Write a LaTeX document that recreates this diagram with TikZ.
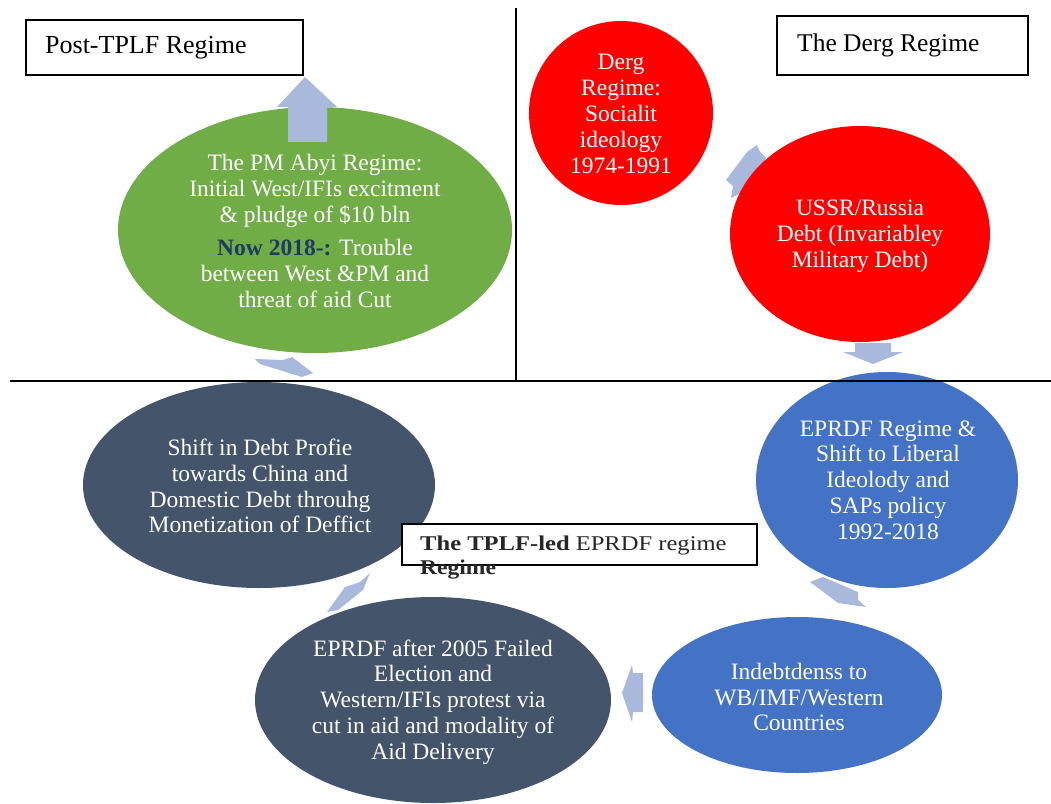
\documentclass[tikz,border=0pt]{standalone}
\usepackage{fontspec}
\setmainfont{Liberation Serif}
\usetikzlibrary{shapes.geometric}
\definecolor{cgreen}{HTML}{70AD47}
\definecolor{cred}{HTML}{FF0000}
\definecolor{cblue}{HTML}{4472C4}
\definecolor{cdark}{HTML}{44546A}
\definecolor{arrowc}{HTML}{A9B9DC}
\definecolor{navy}{HTML}{1F3864}
\tikzset{
  blob/.style={ellipse, inner sep=0pt, draw=none},
  etext/.style={text=white, align=center, inner sep=0pt, font=\fontsize{23.5}{25.8}\selectfont},
  barrow/.style={fill=arrowc, draw=none},
  titlebox/.style={draw=black, line width=1.5pt, inner sep=0pt, rectangle},
  titletext/.style={inner sep=0pt, anchor=base west}
}
\begin{document}
\begin{tikzpicture}[x=1pt,y=-1pt]
\useasboundingbox[fill=white] (0,0) rectangle (1051,803);

% cycle arrows (partly hidden behind ellipses)
\fill[barrow] (757,145) -- (747,152) -- (726,180) -- (733,186) -- (731,198) -- (748,190) -- (766,158) -- (760,152) -- cycle;
\fill[barrow] (855,343) -- (891,343) -- (891,352) -- (903,352) -- (873,364) -- (843,352) -- (855,352) -- cycle;
\fill[barrow] (810,582) -- (823,577) -- (858,592) -- (858,600) -- (866,607) -- (838,603) -- cycle;
\fill[barrow] (643,673) -- (633,673) -- (632,665) -- (622,693) -- (632,722) -- (633,712) -- (643,712) -- cycle;
\fill[barrow] (327,612) -- (345,587) -- (360,582) -- (370,573) -- (363,590) -- (338,610) -- cycle;
\fill[barrow] (255,359) -- (283,360) -- (292,357) -- (313,373) -- (302,377) -- (260,364) -- cycle;

% ellipses
\node[blob, fill=cgreen, minimum width=394pt, minimum height=246pt] (green) at (315,230) {};
\node[blob, fill=cred, minimum width=184pt, minimum height=184pt] (derg) at (621,113) {};
\node[blob, fill=cred, minimum width=260pt, minimum height=216pt] (ussr) at (860,234) {};
\node[blob, fill=cblue, minimum width=262pt, minimum height=216pt] (eprdf) at (887,480) {};
\node[blob, fill=cblue, minimum width=290pt, minimum height=156pt] (indebt) at (797,695) {};
\node[blob, fill=cdark, minimum width=356pt, minimum height=206pt] (after) at (433,700) {};
\node[blob, fill=cdark, minimum width=352pt, minimum height=206pt] (shift) at (259,485) {};

% texts
\node[etext] (greentext) at (315,231) {The PM Abyi Regime:\\Initial West/IFIs excitment\\\& pludge of \$10 bln\\[8pt]{\bfseries\color{navy}Now 2018-:} Trouble\\between West \&PM and\\threat of aid Cut};
\node[etext] (dergtext) at (621,114) {Derg\\Regime:\\Socialit\\ideology\\1974-1991};
\node[etext] (ussrtext) at (860,236) {USSR/Russia\\Debt (Invariabley\\Military Debt)};
\node[etext] (eprdftext) at (888,480) {EPRDF Regime \&\\Shift to Liberal\\Ideolody and\\SAPs policy\\1992-2018};
\node[etext] (indebttext) at (799,697) {Indebtdenss to\\WB/IMF/Western\\Countries};
\node[etext] (aftertext) at (433,702) {EPRDF after 2005 Failed\\Election and\\Western/IFIs protest via\\cut in aid and modality of\\Aid Delivery};
\node[etext] (shifttext) at (260,486) {Shift in Debt Profie\\towards China and\\Domestic Debt throuhg\\Monetization of Deffict};

% up arrow on top of green ellipse
\fill[barrow] (305,77) -- (337,107) -- (327,107) -- (327,142) -- (288,142) -- (288,107) -- (277,107) -- cycle;

% dividing lines
\draw[line width=2.2pt] (516,8) -- (516,381);
\draw[line width=2.4pt] (10,381) -- (1051,381);

% title boxes
\node[titlebox, fill=white, minimum width=277pt, minimum height=55pt] (postbox) at (164.5,47.5) {};
\node[titletext, font=\fontsize{26}{30}\selectfont] (posttext) at (45,53) {Post-TPLF Regime};
\node[titlebox, fill=white, minimum width=251pt, minimum height=59pt] (dergbox) at (902.5,45.5) {};
\node[titletext, font=\fontsize{25.5}{30}\selectfont] (dergtitle) at (797,51) {The Derg Regime};
\node[titlebox, fill=white, line width=1.2pt, minimum width=355pt, minimum height=41pt] (tplfbox) at (579.5,544.5) {};
\node[titletext, text=black!85, font=\fontsize{21}{24}\selectfont] (tplftext) at (420,550) {\scalebox{1.17}[1]{\bfseries The TPLF-led \mdseries EPRDF regime}};
\node[titletext, text=black!85, font=\fontsize{21}{24}\selectfont] (tplftext2) at (420,574) {\scalebox{1.12}[1]{\bfseries Regime}};
\end{tikzpicture}
\end{document}
